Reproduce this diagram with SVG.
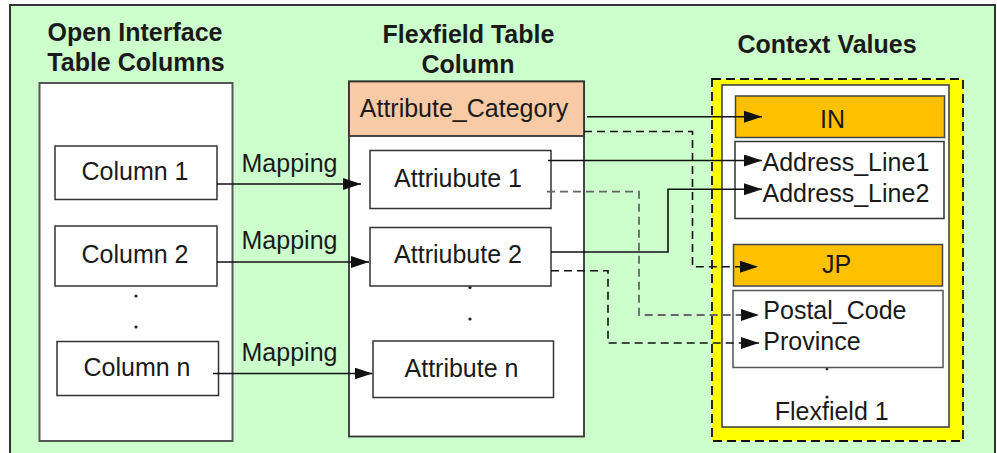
<svg xmlns="http://www.w3.org/2000/svg" width="997" height="453" viewBox="0 0 997 453">
<style>
.t{font-family:"Liberation Sans",Arial,sans-serif;font-size:25px;fill:#1a1a1a}
.b{font-family:"Liberation Sans",Arial,sans-serif;font-size:25px;font-weight:bold;fill:#1a1a1a}
.m{text-anchor:middle}
.box{fill:#fff;stroke:#333;stroke-width:1.5}
.c{fill:none;stroke:#111;stroke-width:1.6}
.d{fill:none;stroke:#111;stroke-width:1.6;stroke-dasharray:8 5}
.dg{fill:none;stroke:#666;stroke-width:1.8;stroke-dasharray:8 5}
.dot{fill:#222}
</style>
<defs>
<marker id="ah" markerUnits="userSpaceOnUse" markerWidth="19" markerHeight="13" refX="18" refY="6" orient="auto">
<path d="M0,0 L18,6 L0,12 z" fill="#111"/>
</marker>
</defs>
<rect width="997" height="453" fill="#fff"/>
<g id="panel">
<rect x="10" y="5" width="985" height="460" fill="#ccffcc" stroke="#333" stroke-width="2"/>
</g>
<g id="titles">
<text class="b m" x="135" y="40.5">Open Interface</text>
<text class="b m" x="136" y="70.5">Table Columns</text>
<text class="b m" x="468.5" y="43">Flexfield Table</text>
<text class="b m" x="468" y="73">Column</text>
<text class="b m" x="827" y="53">Context Values</text>
</g>
<g id="open-interface-table">
<rect x="39.5" y="83" width="193" height="358" fill="#fff" stroke="#555" stroke-width="2"/>
<circle class="dot" cx="136" cy="296" r="1.6"/>
<circle class="dot" cx="136" cy="327" r="1.6"/>
</g>
<g id="column1"><rect class="box" x="55" y="146" width="162" height="53.5"/><text class="t m" x="135" y="180">Column 1</text></g>
<g id="column2"><rect class="box" x="55" y="226" width="162" height="60"/><text class="t m" x="135" y="263.3">Column 2</text></g>
<g id="columnn"><rect class="box" x="57" y="341.5" width="161.5" height="54"/><text class="t m" x="137" y="375.7">Column n</text></g>
<g id="mapping-labels">
<text class="t m" x="289.5" y="172">Mapping</text>
<text class="t m" x="289.5" y="249">Mapping</text>
<text class="t m" x="289.5" y="360.5">Mapping</text>
</g>
<g id="flexfield-table">
<rect x="349" y="81.5" width="235" height="355" fill="#fff" stroke="#333" stroke-width="1.8"/>
<circle class="dot" cx="470" cy="287.5" r="1.6"/>
<circle class="dot" cx="470" cy="319" r="1.6"/>
</g>
<g id="attribute-category"><rect x="349" y="81.5" width="235" height="54.5" fill="#f8cba6" stroke="#333" stroke-width="1.8"/><text class="t m" x="464" y="116.7">Attribute_Category</text></g>
<g id="attribute1"><rect class="box" x="370" y="150.5" width="181" height="58"/><text class="t m" x="458" y="186.7">Attriubute 1</text></g>
<g id="attribute2"><rect class="box" x="370" y="227.5" width="181" height="58.5"/><text class="t m" x="458" y="263.3">Attriubute 2</text></g>
<g id="attributen"><rect class="box" x="373" y="341" width="180.5" height="56.5"/><text class="t m" x="461.5" y="376.7">Attribute n</text></g>
<g id="context-values">
<rect x="712" y="79" width="251" height="362" fill="#ffff00" stroke="#111" stroke-width="1.8" stroke-dasharray="9 5"/>
<rect x="722" y="85" width="227" height="342" fill="#fff" stroke="#444" stroke-width="1.6"/>
<circle class="dot" cx="827" cy="369" r="1.4"/>
<circle class="dot" cx="827" cy="397" r="1.6"/>
<text class="t m" x="831.7" y="420">Flexfield 1</text>
</g>
<g id="ctx-in"><rect x="735.5" y="96" width="209" height="41.5" fill="#ffc000" stroke="#444" stroke-width="1.5"/><text class="t m" x="832.5" y="128.3">IN</text></g>
<g id="ctx-in-segments"><rect class="box" x="735" y="141.5" width="209" height="77"/>
<text class="t" x="762.5" y="171">Address_Line1</text>
<text class="t" x="762.5" y="201.7">Address_Line2</text></g>
<g id="ctx-jp"><rect x="733.5" y="244.5" width="209" height="41.5" fill="#ffc000" stroke="#444" stroke-width="1.5"/><text class="t m" x="836.5" y="272.7">JP</text></g>
<g id="ctx-jp-segments"><rect x="733" y="290.5" width="210" height="77" fill="#fff" stroke="#555" stroke-width="1.5"/>
<text class="t" x="763.3" y="319.3">Postal_Code</text>
<text class="t" x="763.3" y="350">Province</text></g>
<g id="connectors">
<path class="c" d="M217,184 H361" marker-end="url(#ah)"/>
<path class="c" d="M217,262 H369" marker-end="url(#ah)"/>
<path class="c" d="M213,373.5 H372.5" marker-end="url(#ah)"/>
<path class="c" d="M587,116.7 H762" marker-end="url(#ah)"/>
<path class="d" d="M584,131.5 H692.5 V266.7 H758" marker-end="url(#ah)"/>
<path class="c" d="M548,160.5 H762" marker-end="url(#ah)"/>
<path class="dg" d="M547,191.7 H639 V315 H759" marker-end="url(#ah)"/>
<path class="c" d="M551,252 H668 V189.3 H762" marker-end="url(#ah)"/>
<path class="d" d="M551,270.7 H608 V343 H759" marker-end="url(#ah)"/>
</g>
</svg>
